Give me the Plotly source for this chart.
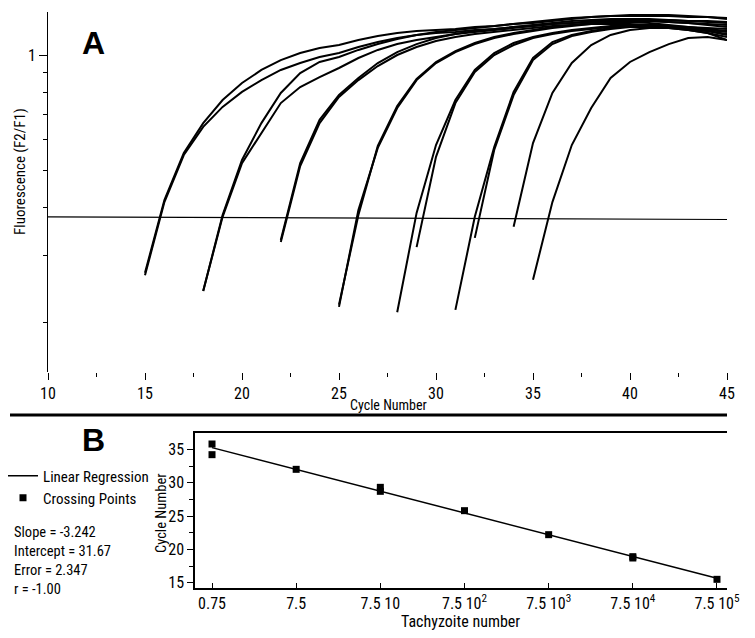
import numpy as np
import plotly.graph_objects as go

# ---------------- Panel A : amplification curves (fluorescence F2/F1 vs cycle) ----------------
curve_A1_start = 15
curve_A1 = [0.270, 0.418, 0.555, 0.664, 0.763, 0.845, 0.914, 0.970, 1.012, 1.043, 1.062, 1.094, 1.121,
            1.141, 1.155, 1.162, 1.169, 1.183, 1.191, 1.205, 1.212, 1.227, 1.242, 1.257, 1.264, 1.264,
            1.264, 1.264, 1.257, 1.257, 1.249]
curve_A2_start = 15
curve_A2 = [0.266, 0.413, 0.548, 0.649, 0.732, 0.801, 0.860, 0.914, 0.953, 0.988, 1.012, 1.049, 1.081,
            1.108, 1.128, 1.141, 1.148, 1.162, 1.169, 1.183, 1.191, 1.205, 1.212, 1.227, 1.234, 1.234,
            1.234, 1.234, 1.227, 1.227, 1.219]
curve_B1_start = 18
curve_B1 = [0.242, 0.382, 0.532, 0.664, 0.796, 0.897, 0.959, 0.988, 1.031, 1.068, 1.101, 1.128, 1.148,
            1.162, 1.176, 1.191, 1.205, 1.219, 1.234, 1.249, 1.257, 1.264, 1.272, 1.272, 1.272, 1.264,
            1.257, 1.242]
curve_B2_start = 18
curve_B2 = [0.242, 0.378, 0.522, 0.626, 0.749, 0.825, 0.876, 0.925, 0.982, 1.031, 1.068, 1.094, 1.114,
            1.135, 1.148, 1.162, 1.176, 1.191, 1.205, 1.212, 1.219, 1.227, 1.227, 1.227, 1.219, 1.212,
            1.205, 1.198]
curve_C1_start = 22
curve_C1 = [0.329, 0.522, 0.677, 0.786, 0.871, 0.953, 1.018, 1.068, 1.108, 1.135, 1.155, 1.169, 1.183,
            1.198, 1.212, 1.227, 1.234, 1.242, 1.242, 1.242, 1.234, 1.227, 1.219, 1.212]
curve_C2_start = 22
curve_C2 = [0.325, 0.513, 0.664, 0.777, 0.860, 0.936, 1.000, 1.049, 1.088, 1.114, 1.135, 1.148, 1.162,
            1.176, 1.191, 1.198, 1.205, 1.205, 1.205, 1.198, 1.191, 1.183, 1.176, 1.169]
curve_D1_start = 25
curve_D1 = [0.220, 0.394, 0.572, 0.727, 0.860, 0.953, 1.018, 1.068, 1.108, 1.135, 1.155, 1.176, 1.191,
            1.205, 1.219, 1.227, 1.227, 1.219, 1.212, 1.198, 1.183]
curve_D2_start = 25
curve_D2 = [0.223, 0.382, 0.579, 0.736, 0.866, 0.959, 1.024, 1.075, 1.114, 1.141, 1.162, 1.183, 1.198,
            1.212, 1.219, 1.219, 1.212, 1.198, 1.183, 1.169, 1.155]
curve_E_start = 28
curve_E = [0.213, 0.387, 0.582, 0.763, 0.914, 1.012, 1.075, 1.114, 1.141, 1.162, 1.176, 1.191, 1.198,
           1.198, 1.191, 1.176, 1.162, 1.148]
curve_F_start = 29
curve_F = [0.315, 0.542, 0.749, 0.903, 1.000, 1.062, 1.108, 1.135, 1.155, 1.169, 1.183, 1.191, 1.191,
           1.183, 1.169, 1.155, 1.135]
curve_G_start = 31
curve_G = [0.216, 0.378, 0.575, 0.801, 0.982, 1.081, 1.128, 1.155, 1.176, 1.191, 1.198, 1.191, 1.176,
           1.155, 1.128]
curve_H_start = 32
curve_H = [0.333, 0.565, 0.786, 0.970, 1.068, 1.121, 1.148, 1.169, 1.183, 1.183, 1.176, 1.162, 1.141, 1.114]
curve_I_start = 34
curve_I = [0.356, 0.589, 0.796, 0.953, 1.062, 1.128, 1.162, 1.176, 1.176, 1.162, 1.141, 1.094]
curve_J_start = 35
curve_J = [0.259, 0.413, 0.582, 0.727, 0.871, 0.959, 1.018, 1.068, 1.108, 1.114, 1.094]

curves = [
    (curve_A1_start, curve_A1), (curve_A2_start, curve_A2),
    (curve_B1_start, curve_B1), (curve_B2_start, curve_B2),
    (curve_C1_start, curve_C1), (curve_C2_start, curve_C2),
    (curve_D1_start, curve_D1), (curve_D2_start, curve_D2),
    (curve_E_start, curve_E), (curve_F_start, curve_F),
    (curve_G_start, curve_G), (curve_H_start, curve_H),
    (curve_I_start, curve_I), (curve_J_start, curve_J),
]

threshold_x = [10, 45]
threshold_y = [0.378, 0.372]

a_xticks = [10, 15, 20, 25, 30, 35, 40, 45]
a_xminor = [12.5, 17.5, 22.5, 27.5, 32.5, 37.5, 42.5]
a_yticks = [1.0]
a_yticklabels = ["1"]
a_yminor = [0.2, 0.3, 0.4, 0.5, 0.6, 0.7, 0.8, 0.9]

# ---------------- Panel B : standard curve ----------------
tachyzoites = [0.75, 0.75, 7.5, 75, 75, 750, 7500, 75000, 75000, 750000]
crossing_cycles = [35.8, 34.2, 32.0, 29.3, 28.7, 25.8, 22.2, 18.9, 18.7, 15.5]

b_xticks = [0.75, 7.5, 75, 750, 7500, 75000, 750000]
b_xticklabels = ["0.75", "7.5", "7.5 10", "7.5 10<sup>2</sup>", "7.5 10<sup>3</sup>",
                 "7.5 10<sup>4</sup>", "7.5 10<sup>5</sup>"]
b_yticks = [15, 20, 25, 30, 35]

stats_text = ["Slope = -3.242", "Intercept = 31.67", "Error = 2.347", "r = -1.00"]

NARROW = "Liberation Sans Narrow, Arial Narrow, Roboto Condensed, sans-serif"
W, H = 755, 638


def px(x):
    return x / W


def py(y):
    return 1 - y / H


fig = go.Figure()

for start, vals in curves:
    fig.add_trace(go.Scatter(
        x=list(range(start, start + len(vals))), y=vals, mode="lines",
        line=dict(color="black", width=2), showlegend=False,
        xaxis="x", yaxis="y", hoverinfo="skip"))

fig.add_trace(go.Scatter(x=threshold_x, y=threshold_y, mode="lines",
                         line=dict(color="black", width=1.2), showlegend=False,
                         xaxis="x", yaxis="y", hoverinfo="skip"))

# regression line computed from the crossing points
lx = np.log10(np.array(tachyzoites))
slope, intercept = np.polyfit(lx, np.array(crossing_cycles), 1)
reg_x = [min(tachyzoites), max(tachyzoites)]
reg_y = [slope * np.log10(v) + intercept for v in reg_x]

fig.add_trace(go.Scatter(x=reg_x, y=reg_y, mode="lines", name="Linear Regression",
                         line=dict(color="black", width=1.5), xaxis="x2", yaxis="y2",
                         legend="legend"))
fig.add_trace(go.Scatter(x=tachyzoites, y=crossing_cycles, mode="markers", name="Crossing Points",
                         marker=dict(symbol="square", size=7, color="black"),
                         xaxis="x2", yaxis="y2", legend="legend2"))


def ann(text, x, y, size, angle=0, family=NARROW, xa="center", ya="middle", align="center"):
    return dict(text=text, x=px(x), y=py(y), xref="paper", yref="paper", showarrow=False,
                xanchor=xa, yanchor=ya, align=align, textangle=angle,
                font=dict(size=size, family=family, color="black"))


legend_style = dict(xanchor="left", yanchor="middle", bgcolor="rgba(0,0,0,0)",
                    font=dict(size=15, family=NARROW, color="black"), borderwidth=0)

fig.update_layout(
    width=W, height=H,
    margin=dict(l=0, r=0, t=0, b=0, autoexpand=False),
    paper_bgcolor="white", plot_bgcolor="white",
    font=dict(family=NARROW, color="black", size=15),
    xaxis=dict(domain=[px(48), px(727)], range=[10, 45], showline=False, showgrid=False,
               zeroline=False, tickmode="array", tickvals=a_xticks, ticks="outside",
               ticklen=7, tickwidth=1, tickcolor="black", tickfont=dict(size=16, family=NARROW),
               minor=dict(tickmode="array", tickvals=a_xminor, ticks="outside", ticklen=4,
                          tickcolor="black", showgrid=False),
               anchor="y", automargin=False),
    yaxis=dict(domain=[py(372), py(12)], type="log", range=[-0.8277, 0.1123], showline=True,
               linecolor="black", linewidth=1, showgrid=False, zeroline=False,
               tickmode="array", tickvals=a_yticks, ticktext=a_yticklabels, ticks="outside",
               ticklen=8, tickcolor="black", tickfont=dict(size=16, family=NARROW),
               minor=dict(tickmode="array", tickvals=a_yminor, ticks="outside", ticklen=4,
                          tickcolor="black", showgrid=False),
               anchor="x", automargin=False),
    xaxis2=dict(domain=[px(195), px(727)], type="log", range=[-0.327, 5.994], showline=True,
                mirror=True, linecolor="black", linewidth=1.5, showgrid=False, zeroline=False,
                tickmode="array", tickvals=b_xticks, ticktext=b_xticklabels, ticks="inside",
                ticklen=5, tickcolor="black", tickfont=dict(size=16, family=NARROW),
                anchor="y2", automargin=False),
    yaxis2=dict(domain=[py(588), py(433)], range=[14.2, 37.45], showline=True,
                linecolor="black", linewidth=1.5, showgrid=False, zeroline=False,
                tickmode="array", tickvals=b_yticks, ticks="outside", ticklen=6,
                tickcolor="black", tickfont=dict(size=16, family=NARROW),
                minor=dict(dtick=2.5, ticks="outside", ticklen=4, tickcolor="black", showgrid=False),
                anchor="x2", automargin=False),
    showlegend=True,
    legend=dict(x=px(3), y=py(476), **legend_style),
    legend2=dict(x=px(3), y=py(498), **legend_style),
    shapes=[dict(type="line", xref="paper", yref="paper", x0=px(10), x1=px(727),
                 y0=py(415), y1=py(415), line=dict(color="black", width=3))],
    annotations=[
        ann("<b>A</b>", 93, 43, 32, family="Liberation Sans, Arial, sans-serif"),
        ann("<b>B</b>", 93, 440, 32, family="Liberation Sans, Arial, sans-serif"),
        ann("Fluorescence (F2/F1)", 20, 172, 15, angle=-90),
        ann("Cycle Number", 388, 405, 14),
        ann("Cycle Number", 161, 513, 14.5, angle=-90),
        ann("Tachyzoite number", 460, 621, 16),
        ann("<br>".join(stats_text), 12, 522, 14.5, xa="left", ya="top", align="left"),
    ],
)

fig.write_html("out.html", config={"displayModeBar": False},
               post_script="document.body.style.margin='0';document.body.style.padding='0';")
